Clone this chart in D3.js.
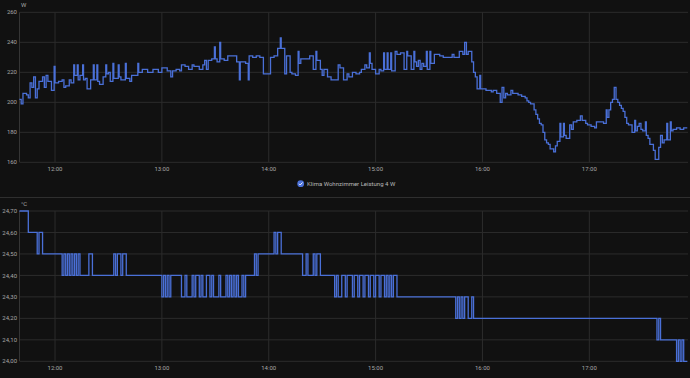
<!DOCTYPE html>
<html><head><meta charset="utf-8">
<script src="https://cdn.jsdelivr.net/npm/d3@7"></script>
<style>
html,body{margin:0;padding:0;background:#111111;}
svg{display:block;}
text{font-family:Roboto,"Noto Sans",sans-serif;}
</style></head><body>
<svg id="chart" width="690" height="378"></svg>
<script>
// ---------- data ----------
const timeDomain = ["11:40:20", "17:55:25"];
const hourTicks = ["12:00", "13:00", "14:00", "15:00", "16:00", "17:00"];
const powerTicks = [160, 180, 200, 220, 240, 260];
const tempTicks = [24.0, 24.1, 24.2, 24.3, 24.4, 24.5, 24.6, 24.7];
const powerUnit = "W";
const tempUnit = "°C";
const legendLabel = "Klima Wohnzimmer Leistung 4 W";

const powerTimes = [
"11:40","11:41","11:42","11:44","11:45","11:46","11:47","11:48","11:49","11:50","11:51","11:53","11:54","11:55","11:56","11:58","11:59:30",
"12:00","12:02","12:04","12:05","12:06","12:08","12:09","12:10:30","12:11","12:12:30","12:13","12:14","12:15:30","12:16","12:17","12:18","12:20",
"12:21:30","12:22","12:23:30","12:24","12:25","12:27","12:28:30","12:29","12:30","12:31","12:32:30","12:33","12:35:30","12:36","12:37","12:39:30","12:40",
"12:42","12:43","12:46:30","12:47","12:49","12:52","12:55","12:58",
"13:00","13:03","13:05","13:06","13:08","13:10","13:11","13:13","13:15","13:17","13:18","13:21","13:23","13:24","13:25","13:26","13:28",
"13:29:30","13:30","13:31","13:32:30","13:33","13:35","13:37","13:42","13:43:30","13:44","13:47","13:48:30","13:49","13:51","13:53","13:55","13:57",
"14:01","14:03","14:05","14:06:30","14:07","14:09","14:10","14:12","14:13","14:15","14:16:30","14:17","14:18","14:23","14:25","14:26:30","14:27",
"14:29","14:30","14:31","14:33","14:35","14:39","14:40","14:42","14:44","14:45","14:47","14:49","14:51","14:52","14:54","14:55","14:56:30",
"14:57","14:58","15:00","15:02","15:03","15:04:30","15:05","15:06:30","15:07","15:08:30","15:09","15:11","15:12","15:14","15:16","15:17:30","15:18",
"15:20","15:21:30","15:22","15:23","15:24","15:25","15:26","15:27","15:28:30","15:29","15:30:30","15:31","15:33","15:36","15:38","15:43","15:44",
"15:47","15:49","15:50","15:51","15:52","15:54","15:55","15:56","15:57","15:58:30","15:59","16:02","16:05","16:06","16:08","16:10","16:11",
"16:12","16:13","16:14","16:16","16:17","16:20","16:22","16:24","16:25","16:26","16:27","16:29","16:30","16:31","16:32","16:33","16:34",
"16:35","16:36","16:37","16:38","16:40","16:41","16:42","16:43:30","16:44","16:45:30","16:46","16:47","16:49","16:50","16:51","16:53","16:55",
"16:56","16:58","16:59","17:01","17:03","17:04","17:08","17:09:30","17:10","17:11","17:12","17:13","17:14","17:15","17:16","17:17","17:18",
"17:19","17:20","17:21","17:22","17:24","17:25:30","17:26","17:27","17:28","17:29","17:30","17:31:30","17:32","17:33","17:34","17:36","17:37",
"17:39","17:40","17:41","17:42","17:43:30","17:44","17:45:30","17:46","17:47","17:49","17:51","17:53","17:55"
];
const powerValues = [
202,199,206,205,203,213,210,217,203,209,214,217,210,218,214,208,224,
213,214,215,210,211,215,213,225,218,225,215,218,225,215,216,209,215,
225,215,225,214,212,217,225,219,220,214,226,216,225,217,215,226,216,
214,218,226,220,222,220,222,220,
223,221,217,221,222,221,225,224,222,225,224,222,225,228,222,228,229,
237,229,227,240,229,228,231,227,215,227,226,215,231,230,231,230,219,
230,231,236,243,236,219,231,220,219,218,234,226,229,231,222,234,228,
222,218,222,217,215,225,223,215,219,217,220,219,220,222,225,223,233,
226,222,219,222,221,233,222,233,222,233,221,234,232,233,222,234,231,
222,234,227,224,228,222,226,224,234,222,234,226,232,231,230,232,230,
234,232,240,232,234,227,220,217,209,218,209,208,207,208,206,200,210,
203,206,205,208,206,205,204,203,201,200,199,195,192,189,186,185,180,
175,173,172,169,167,171,174,186,177,186,178,176,185,182,187,188,191,
188,186,185,184,183,187,186,195,190,195,200,202,210,202,200,198,196,
194,190,186,185,180,188,181,184,186,182,181,187,178,176,172,168,162,
170,178,173,175,186,175,187,181,182,183,182,183,183
];

const tempTimes = [
"11:40","11:45","11:50","11:51","11:53","12:04","12:05","12:06","12:07","12:08","12:09","12:10","12:11","12:12","12:13","12:14",
"12:19","12:21","12:33","12:34","12:35","12:37","12:38","12:40",
"13:00","13:01","13:02","13:03","13:04","13:05","13:11","13:13","13:14","13:17","13:18","13:19","13:21","13:22","13:23","13:25",
"13:27","13:28","13:29","13:32","13:33","13:36","13:37","13:38","13:39","13:40","13:41","13:42","13:43","13:45","13:46","13:47",
"13:52","13:53","13:54","14:03","14:04","14:05","14:07","14:19","14:21","14:22","14:25","14:26","14:27","14:29",
"14:37","14:38","14:39","14:41","14:43","14:44","14:47","14:48","14:50","14:51","14:53","14:54","14:56","14:57","14:59","15:00",
"15:02","15:03","15:05","15:06","15:07","15:08","15:09","15:10","15:12",
"15:45","15:46","15:47","15:48","15:49","15:50","15:52","15:54","15:55",
"17:38","17:39","17:40","17:49","17:50","17:51","17:52","17:53","17:55"
];
const tempValues = [
24.7,24.6,24.5,24.6,24.5,24.4,24.5,24.4,24.5,24.4,24.5,24.4,24.5,24.4,24.5,24.4,
24.5,24.4,24.5,24.4,24.5,24.4,24.5,24.4,
24.3,24.4,24.3,24.4,24.3,24.4,24.3,24.4,24.3,24.4,24.3,24.4,24.3,24.4,24.3,24.4,
24.3,24.4,24.3,24.4,24.3,24.4,24.3,24.4,24.3,24.4,24.3,24.4,24.3,24.4,24.3,24.4,
24.5,24.4,24.5,24.6,24.5,24.6,24.5,24.4,24.5,24.4,24.5,24.4,24.5,24.4,
24.3,24.4,24.3,24.4,24.3,24.4,24.3,24.4,24.3,24.4,24.3,24.4,24.3,24.4,24.3,24.4,
24.3,24.4,24.3,24.4,24.3,24.4,24.3,24.4,24.3,
24.2,24.3,24.2,24.3,24.2,24.3,24.2,24.3,24.2,
24.1,24.2,24.1,24.0,24.1,24.0,24.1,24.0,24.0
];

// ---------- drawing ----------
const lineColor = "#4a70d8";
const gridColor = "#2c2c2c";
const textColor = "#a6a6a6";
const parseHM = s => (s.split(":").length === 3 ? d3.timeParse("%H:%M:%S") : d3.timeParse("%H:%M"))(s);

const svg = d3.select("#chart");
svg.append("rect").attr("width", 690).attr("height", 378).attr("fill", "#111111");

const x = d3.scaleTime().domain(timeDomain.map(parseHM)).range([20, 688]);
const hourDates = hourTicks.map(parseHM);

function panel(cfg) {
  const y = d3.scaleLinear().domain(cfg.domain).range([cfg.bottom, cfg.top]);
  const g = svg.append("g");
  g.selectAll(".hg").data(cfg.ticks).join("line")
    .attr("x1", 20).attr("x2", 688)
    .attr("y1", d => y(d)).attr("y2", d => y(d))
    .attr("stroke", gridColor).attr("stroke-width", 1);
  g.selectAll(".vg").data(hourDates).join("line")
    .attr("x1", d => x(d)).attr("x2", d => x(d))
    .attr("y1", cfg.top).attr("y2", cfg.bottom)
    .attr("stroke", gridColor).attr("stroke-width", 1);
  g.append("line").attr("x1", 19.5).attr("x2", 19.5).attr("y1", cfg.top).attr("y2", cfg.bottom)
    .attr("stroke", "#353535").attr("stroke-width", 1);
  g.selectAll(".yl").data(cfg.ticks).join("text")
    .attr("x", 17).attr("y", d => y(d)).attr("dy", "0.35em")
    .attr("text-anchor", "end").attr("font-size", 6).attr("fill", textColor)
    .text(cfg.fmt);
  g.append("text").attr("x", 21).attr("y", cfg.top - 7).attr("dy", "0.35em")
    .attr("font-size", 6).attr("fill", textColor).text(cfg.unit);
  g.selectAll(".xl").data(hourDates).join("text")
    .attr("x", d => x(d)).attr("y", cfg.bottom + 7).attr("dy", "0.35em")
    .attr("text-anchor", "middle").attr("font-size", 6).attr("fill", textColor)
    .text(d3.timeFormat("%H:%M"));
  const pts = cfg.times.map((t, i) => [parseHM(t), cfg.values[i]]);
  const line = d3.line().x(d => x(d[0])).y(d => y(d[1])).curve(d3.curveStepAfter);
  g.append("path").datum(pts).attr("d", line)
    .attr("fill", "none").attr("stroke", lineColor).attr("stroke-width", 1.3)
    .attr("stroke-linejoin", "miter");
}

panel({ domain: [160, 260], top: 12.3, bottom: 162.3, ticks: powerTicks,
  fmt: d => d3.format("d")(d), unit: powerUnit, times: powerTimes, values: powerValues });

panel({ domain: [24.0, 24.7], top: 211, bottom: 361.3, ticks: tempTicks,
  fmt: d => d3.format(".2f")(d).replace(".", ","), unit: tempUnit, times: tempTimes, values: tempValues });

// legend
const lg = svg.append("g").attr("transform", "translate(300.7,183.7)");
lg.append("circle").attr("r", 3.4).attr("fill", lineColor);
lg.append("path").attr("d", "M-1.7,0.1 L-0.5,1.3 L1.8,-1.2")
  .attr("fill", "none").attr("stroke", "#ffffff").attr("stroke-width", 0.9);
svg.append("text").attr("x", 307).attr("y", 184).attr("dy", "0.35em")
  .attr("font-size", 6).attr("fill", "#b8b8b8").text(legendLabel);

// separator between the two cards
svg.append("line").attr("x1", 0).attr("x2", 690).attr("y1", 197.5).attr("y2", 197.5)
  .attr("stroke", "#2f2f2f").attr("stroke-width", 1);
</script>
</body></html>
